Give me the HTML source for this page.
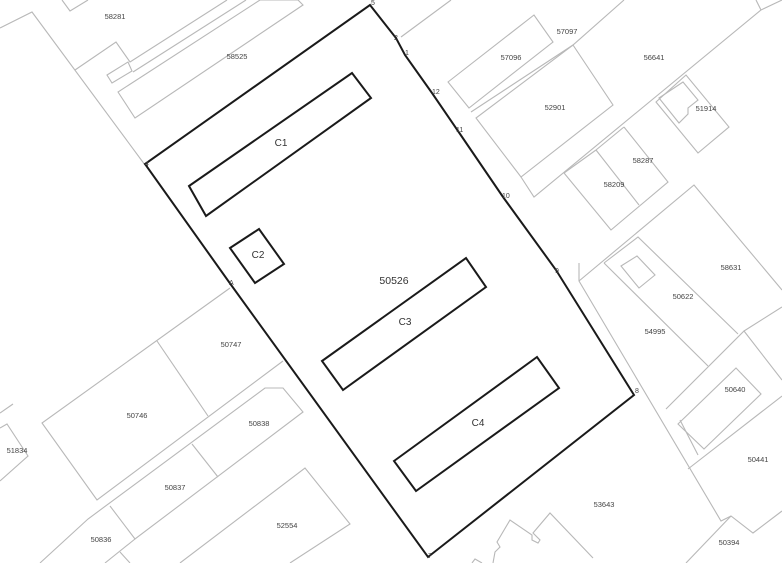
<!DOCTYPE html>
<html><head><meta charset="utf-8"><style>
html,body{margin:0;padding:0;background:#fff;}
svg{display:block;}
text{font-family:"Liberation Sans",sans-serif;}
.g{fill:none;stroke:#b8b8b8;stroke-width:1.1;}
.b{fill:none;stroke:#1a1a1a;stroke-width:2;}
.l{font-size:7.5px;fill:#444;text-anchor:middle;}
.c{font-size:10px;fill:#333;text-anchor:middle;}
.v{font-size:7px;fill:#444;}
</style></head><body>
<svg width="782" height="563" viewBox="0 0 782 563" xmlns="http://www.w3.org/2000/svg">
<!-- grey parcels -->
<polyline class="g" points="0,28 32,12 145,165"/>
<polyline class="g" points="62,0 70,11 88,0"/>
<polyline class="g" points="75,70 116,42 130,62 227,0"/>
<polygon class="g" points="107,75 128,62 132,71 112,83"/>
<polygon class="g" points="118,92 135,118 303,5 298,0 260,0"/>
<polyline class="g" points="133,72 246,0"/>
<polyline class="g" points="401,37 451,0"/>
<polygon class="g" points="448,82 534,15 553,42 469,108"/>
<polyline class="g" points="471,112 573,45 624,0"/>
<polygon class="g" points="573,45 613,105 521,177 476,118"/>
<polyline class="g" points="521,177 534,197 761,10 782,0"/>
<polyline class="g" points="761,10 756,0"/>
<polyline class="g" points="596,150 564,173 611,230 668,182 624,127"/>
<polyline class="g" points="596,150 639,205"/>
<polyline class="g" points="596,150 624,127"/>
<polygon class="g" points="656,102 686,75 729,127 698,153"/>
<polygon class="g" points="659,98 683,82 698,100 688,108 688,114 679,123"/>
<polyline class="g" points="579,281 694,185 782,290"/>
<polyline class="g" points="579,263 579,281 721,521 731,516 753,533 782,511"/>
<polyline class="g" points="731,516 686,563"/>
<polyline class="g" points="604,263 638,237 738,334"/>
<polyline class="g" points="604,263 708,366"/>
<polygon class="g" points="621,266 637,256 655,275 639,288"/>
<polyline class="g" points="666,409 744,331 782,380"/>
<polyline class="g" points="744,331 782,307"/>
<polygon class="g" points="678,424 736,368 761,394 704,449"/>
<polyline class="g" points="688,469 782,396"/>
<polyline class="g" points="680,420 698,455"/>
<polyline class="g" points="472,563 475,559 482,563"/>
<polyline class="g" points="493,563 495,552 500,547 497,542 510,520 532,535 532,540 538,543 540,540 533,533 550,513 593,558"/>
<polyline class="g" points="230,288 42,423 97,500 283,361"/>
<polyline class="g" points="157,341 208,416"/>
<polyline class="g" points="40,563 88,519 265,388 283,388 303,412 135,539 110,506"/>
<polyline class="g" points="192,444 218,477"/>
<polyline class="g" points="135,539 105,563"/>
<polyline class="g" points="120,552 130,563"/>
<polyline class="g" points="180,563 305,468 350,524 290,563"/>
<polyline class="g" points="0,413 13,404"/>
<polyline class="g" points="0,428 7,424 28,456 0,481"/>
<!-- main parcel -->
<polygon class="b" points="370,5 396,38 405,55 432,93 458,131 503,197 556,270 634,395 428,557 229,282 145,164"/>
<polygon class="b" points="189,186 352,73 371,98 206,216"/>
<polygon class="b" points="230,248 259,229 284,264 255,283"/>
<polygon class="b" points="322,361 466,258 486,287 343,390"/>
<polygon class="b" points="394,461 537,357 559,388 416,491"/>
<!-- labels -->
<text class="c" x="281" y="146">C1</text>
<text class="c" x="258" y="258">C2</text>
<text class="c" x="405" y="325">C3</text>
<text class="c" x="478" y="426">C4</text>
<text class="c" x="394" y="284" style="font-size:10.5px">50526</text>
<text class="l" x="115" y="19">58281</text>
<text class="l" x="237" y="59">58525</text>
<text class="l" x="567" y="34">57097</text>
<text class="l" x="511" y="60">57096</text>
<text class="l" x="654" y="60">56641</text>
<text class="l" x="555" y="110">52901</text>
<text class="l" x="706" y="111">51914</text>
<text class="l" x="643" y="163">58287</text>
<text class="l" x="614" y="187">58209</text>
<text class="l" x="731" y="270">58631</text>
<text class="l" x="683" y="299">50622</text>
<text class="l" x="655" y="334">54995</text>
<text class="l" x="735" y="392">50640</text>
<text class="l" x="758" y="462">50441</text>
<text class="l" x="604" y="507">53643</text>
<text class="l" x="729" y="545">50394</text>
<text class="l" x="231" y="347">50747</text>
<text class="l" x="137" y="418">50746</text>
<text class="l" x="259" y="426">50838</text>
<text class="l" x="17" y="453">51834</text>
<text class="l" x="175" y="490">50837</text>
<text class="l" x="287" y="528">52554</text>
<text class="l" x="101" y="542">50836</text>
<text class="v" x="371" y="5">5</text>
<text class="v" x="394" y="40">2</text>
<text class="v" x="405" y="55">1</text>
<text class="v" x="432" y="94">12</text>
<text class="v" x="456" y="132">11</text>
<text class="v" x="502" y="198">10</text>
<text class="v" x="555" y="273">9</text>
<text class="v" x="635" y="393">8</text>
<text class="v" x="428" y="558">7</text>
<text class="v" x="229" y="285">A</text>
<text class="v" x="145" y="166">4</text>
</svg>
</body></html>
